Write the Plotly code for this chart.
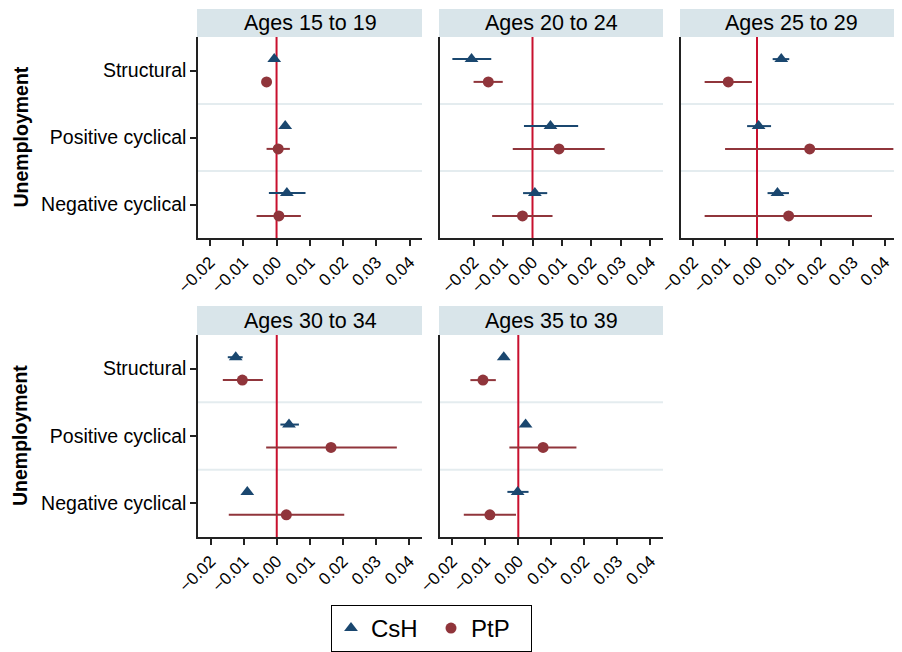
import plotly.graph_objects as go

W, H = 902, 652
OFF = 8  # page body margin of the browser
FW, FH = W - OFF, H - OFF

panels = ["Ages 15 to 19", "Ages 20 to 24", "Ages 25 to 29", "Ages 30 to 34", "Ages 35 to 39"]
categories = ["Structural", "Positive cyclical", "Negative cyclical"]
xtick_vals = [-0.02, -0.01, 0.00, 0.01, 0.02, 0.03, 0.04]
xtick_labels = ["\u22120.02", "\u22120.01", "0.00", "0.01", "0.02", "0.03", "0.04"]

# CsH estimates and confidence bounds, one list per panel (Structural, Positive, Negative)
csh_est = [
    [-0.0007, 0.0026, 0.0031],
    [-0.0207, 0.0061, 0.0008],
    [0.0076, 0.0005, 0.0064],
    [-0.0124, 0.0037, -0.0089],
    [-0.0044, 0.0022, -0.0002],
]
csh_lo = [
    [-0.0013, 0.0019, -0.0023],
    [-0.0272, -0.0029, -0.0032],
    [0.0049, -0.0031, 0.0033],
    [-0.0148, 0.0011, -0.0095],
    [-0.0050, 0.0016, -0.0033],
]
csh_hi = [
    [-0.0001, 0.0033, 0.0087],
    [-0.0140, 0.0155, 0.0050],
    [0.0101, 0.0044, 0.0100],
    [-0.0103, 0.0067, -0.0083],
    [-0.0038, 0.0028, 0.0031],
]

# PtP estimates and confidence bounds
ptp_est = [
    [-0.0030, 0.0005, 0.0007],
    [-0.0150, 0.0090, -0.0034],
    [-0.0090, 0.0165, 0.0099],
    [-0.0104, 0.0164, 0.0029],
    [-0.0107, 0.0075, -0.0086],
]
ptp_lo = [
    [-0.0036, -0.0030, -0.0060],
    [-0.0200, -0.0067, -0.0137],
    [-0.0164, -0.0100, -0.0164],
    [-0.0163, -0.0032, -0.0145],
    [-0.0145, -0.0027, -0.0165],
]
ptp_hi = [
    [-0.0024, 0.0040, 0.0073],
    [-0.0101, 0.0245, 0.0068],
    [-0.0016, 0.0427, 0.0360],
    [-0.0042, 0.0363, 0.0204],
    [-0.0068, 0.0176, -0.0007],
]

# per-panel x ranges (layout)
x_ranges = [
    [-0.0236, 0.0437],
    [-0.0314, 0.0443],
    [-0.0238, 0.0454],
    [-0.0238, 0.0439],
    [-0.0237, 0.0438],
]

NAVY = "#1a476f"
MAROON = "#90353b"
ZERO = "#c8102e"
STRIP = "#d9e5ea"
SEP = "#e4ecef"
AXIS = "#222222"
FONT = "Liberation Sans, Arial, Helvetica, sans-serif"

cols_px = [(198, 422), (440, 663), (681, 902)]
rows_px = [(37, 238), (335, 537)]
strips_px = [(9, 37), (306, 335)]
positions = [(0, 0), (0, 1), (0, 2), (1, 0), (1, 1)]

def px_x(v):
    return (v - OFF) / FW

def px_y(v):
    return 1 - (v - OFF) / FH

fig = go.Figure()
shapes = []
annotations = []
layout_axes = {}
offset = 0.17
ypos = [1, 2, 3]

for i, title in enumerate(panels):
    r, c = positions[i]
    n = i + 1
    xa = "x" if n == 1 else f"x{n}"
    ya = "y" if n == 1 else f"y{n}"
    xkey = "xaxis" if n == 1 else f"xaxis{n}"
    ykey = "yaxis" if n == 1 else f"yaxis{n}"

    e, lo, hi = csh_est[i], csh_lo[i], csh_hi[i]
    fig.add_trace(go.Scatter(
        x=e, y=[p - offset for p in ypos], xaxis=xa, yaxis=ya,
        mode="markers", name="CsH", legendgroup="CsH", showlegend=(i == 0),
        marker=dict(symbol="triangle-up", size=12, color=NAVY),
        error_x=dict(type="data", symmetric=False,
                     array=[h - v for h, v in zip(hi, e)],
                     arrayminus=[v - l for v, l in zip(e, lo)],
                     color=NAVY, thickness=2, width=0),
        hoverinfo="skip",
    ))
    e, lo, hi = ptp_est[i], ptp_lo[i], ptp_hi[i]
    fig.add_trace(go.Scatter(
        x=e, y=[p + offset for p in ypos], xaxis=xa, yaxis=ya,
        mode="markers", name="PtP", legendgroup="PtP", showlegend=(i == 0),
        marker=dict(symbol="circle", size=11, color=MAROON),
        error_x=dict(type="data", symmetric=False,
                     array=[h - v for h, v in zip(hi, e)],
                     arrayminus=[v - l for v, l in zip(e, lo)],
                     color=MAROON, thickness=2, width=0),
        hoverinfo="skip",
    ))

    x0, x1 = cols_px[c]
    y0, y1 = rows_px[r]
    s0, s1 = strips_px[r]
    layout_axes[xkey] = dict(
        domain=[px_x(x0), min(1.0, px_x(x1))], range=x_ranges[i], anchor=ya,
        tickvals=xtick_vals, ticktext=xtick_labels, tickangle=-45,
        ticks="outside", ticklen=6, tickwidth=1.5, tickcolor=AXIS,
        showline=True, linecolor=AXIS, linewidth=1.5,
        showgrid=False, zeroline=False, automargin=False,
        tickfont=dict(size=17, color="black", family=FONT),
    )
    layout_axes[ykey] = dict(
        domain=[px_y(y1), px_y(y0)], range=[3.5, 0.5], anchor=xa,
        tickvals=ypos, ticktext=categories if c == 0 else ["", "", ""],
        ticks="outside" if c == 0 else "", ticklen=6, tickwidth=1.5, tickcolor=AXIS,
        showticklabels=(c == 0),
        showline=True, linecolor=AXIS, linewidth=1.5,
        showgrid=False, zeroline=False, automargin=False,
        tickfont=dict(size=19.5, color="black", family=FONT),
    )
    for sep in (1.5, 2.5):
        shapes.append(dict(type="line", xref=f"{xa} domain", yref=ya,
                           x0=0, x1=1, y0=sep, y1=sep,
                           line=dict(color=SEP, width=2), layer="below"))
    shapes.append(dict(type="line", xref=xa, yref=f"{ya} domain",
                       x0=0, x1=0, y0=0, y1=1,
                       line=dict(color=ZERO, width=2), layer="below"))
    shapes.append(dict(type="rect", xref="paper", yref="paper",
                       x0=px_x(x0 - 1), x1=min(1.0, px_x(x1)), y0=px_y(s1), y1=px_y(s0),
                       fillcolor=STRIP, line=dict(width=0), layer="below"))
    annotations.append(dict(text=title, xref="paper", yref="paper",
                            x=px_x((x0 + x1) / 2), y=px_y((s0 + s1) / 2),
                            xanchor="center", yanchor="middle", showarrow=False,
                            font=dict(size=21.5, color="black", family=FONT)))

for (y0, y1) in rows_px:
    annotations.append(dict(text="<b>Unemployment</b>", xref="paper", yref="paper",
                            x=0.0, y=px_y((y0 + y1) / 2), textangle=-90,
                            xanchor="left", yanchor="middle", showarrow=False,
                            borderpad=0,
                            font=dict(size=19.5, color="black", family=FONT)))

fig.update_layout(
    width=FW, height=FH,
    margin=dict(l=0, r=0, t=0, b=0, autoexpand=False),
    paper_bgcolor="white", plot_bgcolor="white",
    shapes=shapes, annotations=annotations,
    showlegend=True,
    legend=dict(orientation="h", x=px_x(331), xanchor="left",
                y=px_y(605), yanchor="top",
                bordercolor="black", borderwidth=1, bgcolor="white",
                font=dict(size=24, color="black", family=FONT),
                itemsizing="trace", entrywidth=55, entrywidthmode="pixels"),
    font=dict(family=FONT),
    **layout_axes,
)

fig.write_html("out.html")
